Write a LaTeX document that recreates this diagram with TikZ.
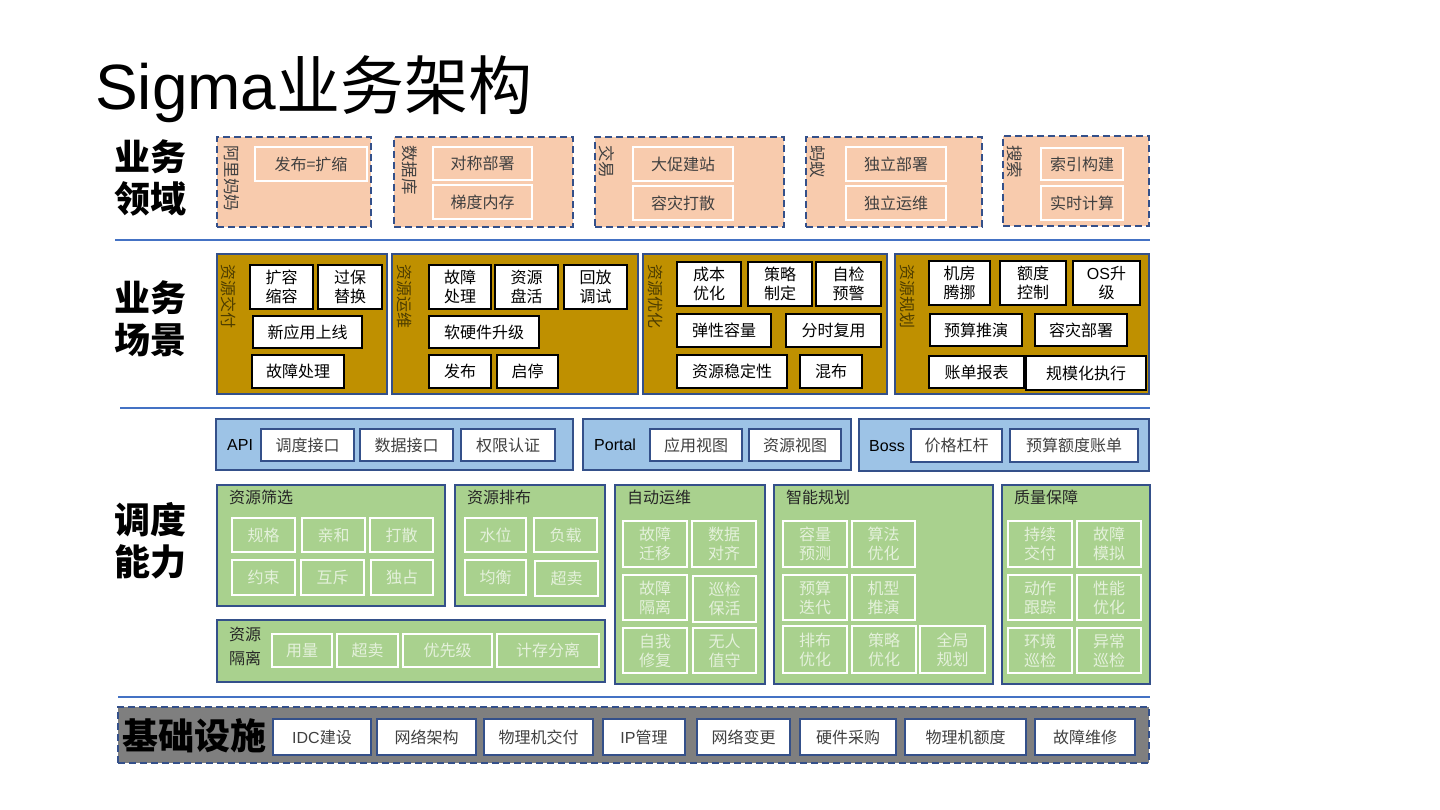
\documentclass[tikz,border=0pt]{standalone}
\usepackage{fontspec}
\setmainfont{Noto Sans CJK SC}
\newfontfamily\lat{Liberation Sans}
\definecolor{bd}{HTML}{34508A}
\definecolor{peach}{HTML}{F8CBAD}
\definecolor{gold}{HTML}{BF9000}
\definecolor{lblue}{HTML}{9DC3E6}
\definecolor{grn}{HTML}{A9D18E}
\definecolor{gry}{HTML}{7F7F7F}
\definecolor{sepc}{HTML}{4472C4}
\definecolor{t4}{HTML}{404040}
\definecolor{gtxt}{HTML}{E4F1DB}
\definecolor{brn}{HTML}{4D3D00}
\newcommand\fs[2]{\fontsize{#1}{#2}\selectfont}
\newcommand\bx[7]{\node[#1,minimum width={#5-#3},minimum height={#6-#4}] (#2) at ({(#3+#5)/2},{(#4+#6)/2}) {#7};}
\tikzset{
  base/.style={inner sep=0pt, outer sep=0pt, align=center},
  dom/.style={base, draw=bd, fill=peach, line width=2.2pt, dash pattern=on 7pt off 4pt},
  domin/.style={base, draw=white, fill=peach, line width=2pt, text=t4, font=\fs{16}{19}},
  scn/.style={base, draw=bd, fill=gold, line width=2pt},
  scnin/.style={base, draw=black, fill=white, line width=2pt, font=\fs{16}{19}},
  api/.style={base, draw=bd, fill=lblue, line width=2pt},
  apiin/.style={base, draw=bd, fill=white, line width=2pt, text=t4, font=\fs{16}{19}},
  capb/.style={base, draw=bd, fill=grn, line width=2pt},
  capin/.style={base, draw=white, fill=grn, line width=2pt, text=gtxt, font=\fs{16}{19}},
  inf/.style={base, draw=bd, fill=gry, line width=2.2pt, dash pattern=on 7pt off 4pt},
  infin/.style={base, draw=bd, fill=white, line width=2.5pt, text=t4, font=\fs{16}{19}},
  vl/.style={inner sep=0pt, rotate=-90, anchor=west, text=t4, font=\fs{16.5}{18}},
  vlg/.style={inner sep=0pt, rotate=-90, anchor=west, text=brn, font=\fs{16}{18}},
  ttl/.style={inner sep=0pt, anchor=north west, align=left, text=black!85, font=\fs{16}{24}},
  row/.style={inner sep=0pt, align=center, font=\bfseries\fs{36}{42}},
  sep/.style={draw=sepc, line width=2pt},
  lt/.style={inner sep=0pt, anchor=west, font=\lat\fs{16}{19}},
}
\begin{document}
\begin{tikzpicture}[x=1pt,y=-1pt]
\fill[white] (0,0) rectangle (1440,810);
\useasboundingbox (0,0) rectangle (1440,810);

% title
\node[inner sep=0pt, anchor=base west, font=\fs{64}{70}] (title) at (95,110) {{\lat Sigma}业务架构};

% row labels
\node[row] (r1) at (150,178) {业务\\领域};
\node[row] (r2) at (150,319) {业务\\场景};
\node[row] (r3) at (150,541) {调度\\能力};

% separators
\coordinate (s1a) at (115,240); \coordinate (s1b) at (1150,240);
\coordinate (s2a) at (120,408); \coordinate (s2b) at (1150,408);
\coordinate (s3a) at (118,697); \coordinate (s3b) at (1150,697);
\draw[sep] (s1a) -- (s1b);
\draw[sep] (s2a) -- (s2b);
\draw[sep] (s3a) -- (s3b);

% ---- row 1: business domains
\bx{dom}{d1}{217}{137}{371}{227}{}
\node[vl] (d1l) at (232,145) {阿里妈妈};
\bx{domin}{d1a}{255}{147}{367}{181}{发布=扩缩}
\bx{dom}{d2}{394}{137}{573}{227}{}
\node[vl] (d2l) at (410,145) {数据库};
\bx{domin}{d2a}{433}{147}{532}{180}{对称部署}
\bx{domin}{d2b}{433}{185}{532}{219}{梯度内存}
\bx{dom}{d3}{595}{137}{784}{227}{}
\node[vl] (d3l) at (607,145) {交易};
\bx{domin}{d3a}{633}{147}{733}{181}{大促建站}
\bx{domin}{d3b}{633}{186}{733}{220}{容灾打散}
\bx{dom}{d4}{806}{137}{982}{227}{}
\node[vl] (d4l) at (818,145) {蚂蚁};
\bx{domin}{d4a}{846}{147}{946}{181}{独立部署}
\bx{domin}{d4b}{846}{186}{946}{220}{独立运维}
\bx{dom}{d5}{1003}{136}{1149}{226}{}
\node[vl] (d5l) at (1015,145) {搜索};
\bx{domin}{d5a}{1041}{148}{1123}{180}{索引构建}
\bx{domin}{d5b}{1041}{186}{1123}{220}{实时计算}

% ---- row 2: business scenarios
\bx{scn}{sa}{217}{254}{387}{394}{}
\node[vlg] (sal) at (229,264) {资源交付};
\bx{scnin}{sa1}{250}{265}{313}{309}{扩容\\缩容}
\bx{scnin}{sa2}{318}{265}{382}{309}{过保\\替换}
\bx{scnin}{sa3}{253}{316}{362}{348}{新应用上线}
\bx{scnin}{sa4}{252}{355}{344}{388}{故障处理}

\bx{scn}{sb}{392}{254}{638}{394}{}
\node[vlg] (sbl) at (405,264) {资源运维};
\bx{scnin}{sb1}{429}{265}{491}{309}{故障\\处理}
\bx{scnin}{sb2}{495}{265}{558}{309}{资源\\盘活}
\bx{scnin}{sb3}{564}{265}{627}{309}{回放\\调试}
\bx{scnin}{sb4}{429}{316}{539}{348}{软硬件升级}
\bx{scnin}{sb5}{429}{355}{491}{388}{发布}
\bx{scnin}{sb6}{497}{355}{558}{388}{启停}

\bx{scn}{sc}{643}{254}{887}{394}{}
\node[vlg] (scl) at (656,264) {资源优化};
\bx{scnin}{sc1}{677}{262}{741}{306}{成本\\优化}
\bx{scnin}{sc2}{748}{262}{812}{306}{策略\\制定}
\bx{scnin}{sc3}{816}{262}{881}{306}{自检\\预警}
\bx{scnin}{sc4}{677}{314}{771}{347}{弹性容量}
\bx{scnin}{sc5}{786}{314}{881}{347}{分时复用}
\bx{scnin}{sc6}{677}{355}{787}{388}{资源稳定性}
\bx{scnin}{sc7}{800}{355}{862}{388}{混布}

\bx{scn}{sd}{895}{254}{1149}{394}{}
\node[vlg] (sdl) at (908,264) {资源规划};
\bx{scnin}{sd1}{929}{261}{990}{305}{机房\\腾挪}
\bx{scnin}{sd2}{1000}{261}{1066}{305}{额度\\控制}
\bx{scnin}{sd3}{1073}{261}{1140}{305}{{\lat OS}升\\级}
\bx{scnin}{sd4}{930}{314}{1022}{346}{预算推演}
\bx{scnin}{sd5}{1035}{314}{1127}{346}{容灾部署}
\bx{scnin}{sd6}{929}{356}{1024}{388}{账单报表}
\bx{scnin}{sd7}{1026}{356}{1146}{390}{规模化执行}

% ---- row 3: interfaces
\bx{api}{ia}{216}{419}{573}{470}{}
\node[lt] (ial) at (227,445) {API};
\bx{apiin}{ia1}{261}{429}{354}{461}{调度接口}
\bx{apiin}{ia2}{360}{429}{453}{461}{数据接口}
\bx{apiin}{ia3}{461}{429}{555}{461}{权限认证}
\bx{api}{ib}{583}{419}{851}{470}{}
\node[lt] (ibl) at (594,445) {Portal};
\bx{apiin}{ib1}{650}{429}{742}{461}{应用视图}
\bx{apiin}{ib2}{749}{429}{841}{461}{资源视图}
\bx{api}{ic}{859}{419}{1149}{471}{}
\node[lt] (icl) at (869,446) {Boss};
\bx{apiin}{ic1}{911}{429}{1002}{462}{价格杠杆}
\bx{apiin}{ic2}{1010}{429}{1138}{462}{预算额度账单}

% ---- row 4: capabilities
\bx{capb}{ca}{217}{485}{445}{606}{}
\node[ttl] (cal) at (229,490) {资源筛选};
\bx{capin}{ca1}{232}{518}{295}{552}{规格}
\bx{capin}{ca2}{302}{518}{365}{552}{亲和}
\bx{capin}{ca3}{370}{518}{433}{552}{打散}
\bx{capin}{ca4}{232}{560}{295}{595}{约束}
\bx{capin}{ca5}{301}{560}{364}{595}{互斥}
\bx{capin}{ca6}{371}{560}{433}{595}{独占}

\bx{capb}{cb}{455}{485}{605}{606}{}
\node[ttl] (cbl) at (467,490) {资源排布};
\bx{capin}{cb1}{465}{518}{526}{552}{水位}
\bx{capin}{cb2}{534}{518}{597}{552}{负载}
\bx{capin}{cb3}{465}{560}{526}{595}{均衡}
\bx{capin}{cb4}{535}{561}{598}{596}{超卖}

\bx{capb}{cc}{217}{620}{605}{682}{}
\node[ttl] (ccl) at (229,627) {资源\\隔离};
\bx{capin}{cc1}{272}{634}{332}{667}{用量}
\bx{capin}{cc2}{337}{634}{398}{667}{超卖}
\bx{capin}{cc3}{403}{634}{492}{667}{优先级}
\bx{capin}{cc4}{497}{634}{599}{667}{计存分离}

\bx{capb}{cd}{615}{485}{765}{684}{}
\node[ttl] (cdl) at (627,490) {自动运维};
\bx{capin}{cd1}{623}{521}{687}{567}{故障\\迁移}
\bx{capin}{cd2}{692}{521}{756}{567}{数据\\对齐}
\bx{capin}{cd3}{623}{575}{687}{620}{故障\\隔离}
\bx{capin}{cd4}{693}{576}{756}{622}{巡检\\保活}
\bx{capin}{cd5}{623}{628}{687}{673}{自我\\修复}
\bx{capin}{cd6}{693}{628}{756}{673}{无人\\值守}

\bx{capb}{ce}{774}{485}{993}{684}{}
\node[ttl] (cel) at (786,490) {智能规划};
\bx{capin}{ce1}{783}{521}{847}{567}{容量\\预测}
\bx{capin}{ce2}{852}{521}{915}{567}{算法\\优化}
\bx{capin}{ce3}{783}{575}{847}{620}{预算\\迭代}
\bx{capin}{ce4}{852}{575}{915}{620}{机型\\推演}
\bx{capin}{ce5}{783}{626}{847}{673}{排布\\优化}
\bx{capin}{ce6}{852}{626}{916}{673}{策略\\优化}
\bx{capin}{ce7}{920}{626}{985}{673}{全局\\规划}

\bx{capb}{cf}{1002}{485}{1150}{684}{}
\node[ttl] (cfl) at (1014,490) {质量保障};
\bx{capin}{cf1}{1008}{521}{1072}{567}{持续\\交付}
\bx{capin}{cf2}{1077}{521}{1141}{567}{故障\\模拟}
\bx{capin}{cf3}{1008}{575}{1072}{620}{动作\\跟踪}
\bx{capin}{cf4}{1077}{575}{1141}{620}{性能\\优化}
\bx{capin}{cf5}{1008}{628}{1072}{673}{环境\\巡检}
\bx{capin}{cf6}{1077}{628}{1141}{673}{异常\\巡检}

% ---- row 5: infrastructure
\bx{inf}{fa}{118}{707}{1149}{763}{}
\node[inner sep=0pt, anchor=west, font=\bfseries\fs{36}{40}] (fal) at (122,736) {基础设施};
\bx{infin}{f1}{273}{719}{371}{755}{{\lat IDC}建设}
\bx{infin}{f2}{377}{719}{476}{755}{网络架构}
\bx{infin}{f3}{484}{719}{593}{755}{物理机交付}
\bx{infin}{f4}{603}{719}{685}{755}{{\lat IP}管理}
\bx{infin}{f5}{697}{719}{790}{755}{网络变更}
\bx{infin}{f6}{800}{719}{896}{755}{硬件采购}
\bx{infin}{f7}{905}{719}{1026}{755}{物理机额度}
\bx{infin}{f8}{1035}{719}{1135}{755}{故障维修}
\end{tikzpicture}
\end{document}
